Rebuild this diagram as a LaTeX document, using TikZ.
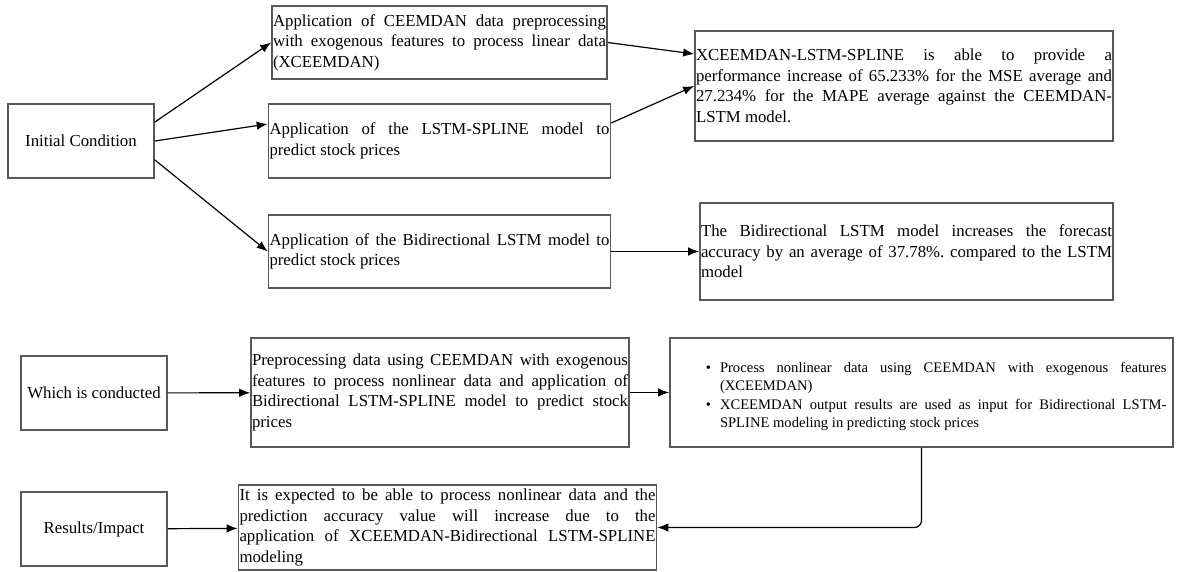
\documentclass[tikz,border=0pt]{standalone}
\usepackage{fontspec}
\setmainfont{Liberation Serif}
\usepackage{enumitem}
\usetikzlibrary{calc}
\usetikzlibrary{arrows.meta}
\frenchspacing
\tikzset{>={Latex[length=11pt,width=8.5pt]}}
\tikzset{
  box/.style={draw=black!65, line width=1.6pt, inner xsep=1pt, inner ysep=2pt, align=justify, font=\fontsize{16.8}{20.5}\selectfont},
  cond/.style={box, align=center},
  link/.style={->, line width=1.2pt},
}

\begin{document}
\begin{tikzpicture}[x=1pt,y=-1pt]
  \useasboundingbox (0,0) rectangle (1177,572);

  \node[cond, minimum width=146pt, minimum height=74pt] (init) at (81,141) {Initial Condition};
  \node[box, text width=333pt, minimum height=73pt] (a1) at (439.5,42.5) {Application of CEEMDAN data preprocessing\linebreak with exogenous features to process linear data\linebreak (XCEEMDAN)};
  \node[box, text width=340pt, minimum height=74pt] (a2) at (439.5,141) {Application of the LSTM-SPLINE model to\linebreak predict stock prices};
  \node[box, text width=340pt, minimum height=73pt] (a3) at (439.5,251.5) {Application of the Bidirectional LSTM model to\linebreak predict stock prices};
  \node[box, text width=416pt, minimum height=110pt] (r1) at (904,86) {XCEEMDAN-LSTM-SPLINE is able to provide a\linebreak performance increase of 65.233\% for the MSE average and\linebreak 27.234\% for the MAPE average against the CEEMDAN-\linebreak LSTM model.};
  \node[box, text width=411pt, minimum height=97pt] (r2) at (906.5,251.5) {The Bidirectional LSTM model increases the forecast\linebreak accuracy by an average of 37.78\%. compared to the LSTM\linebreak model};

  \node[cond, minimum width=146pt, minimum height=74pt] (which) at (94,393) {Which is conducted};
  \node[box, text width=376pt, minimum height=109pt] (prep) at (440,392.5) {Preprocessing data using CEEMDAN with exogenous\linebreak features to process nonlinear data and application of\linebreak Bidirectional LSTM-SPLINE model to predict stock\linebreak prices};
  \node[box, text width=490pt, minimum width=503pt, minimum height=109pt, font=\fontsize{14.6}{18.3}\selectfont] (plan) at (921.5,392.5) {%
    \begin{itemize}[leftmargin=43.5pt, labelsep=9pt, nosep]
      \item Process nonlinear data using CEEMDAN with exogenous features\linebreak (XCEEMDAN)
      \item XCEEMDAN output results are used as input for Bidirectional LSTM-\linebreak SPLINE modeling in predicting stock prices
    \end{itemize}};

  \node[cond, minimum width=146pt, minimum height=74pt] (impact) at (94,529) {Results/Impact};
  \node[box, text width=416pt, minimum height=85pt] (expect) at (447.5,527.5) {It is expected to be able to process nonlinear data and the\linebreak prediction accuracy value will increase due to the\linebreak application of XCEEMDAN-Bidirectional LSTM-SPLINE\linebreak modeling};

  \draw[link] ($(init.north east)!.25!(init.south east)$) -- (a1.west);
  \draw[link] (init.east) -- ([yshift=17pt]a2.west);
  \draw[link] ($(init.north east)!.75!(init.south east)$) -- (a3.west);
  \draw[link] (a1.east) -- ([yshift=32pt]r1.west);
  \draw[link] ([yshift=18pt]a2.east) -- (r1.west);
  \draw[link] (a3.east) -- (r2.west);
  \draw[link] (which) -- (prep);
  \draw[link] (prep) -- (plan);
  \draw[link, rounded corners=7pt] (plan.south) |- (expect.east);
  \draw[link] (impact) -- (expect);
\end{tikzpicture}
\end{document}
